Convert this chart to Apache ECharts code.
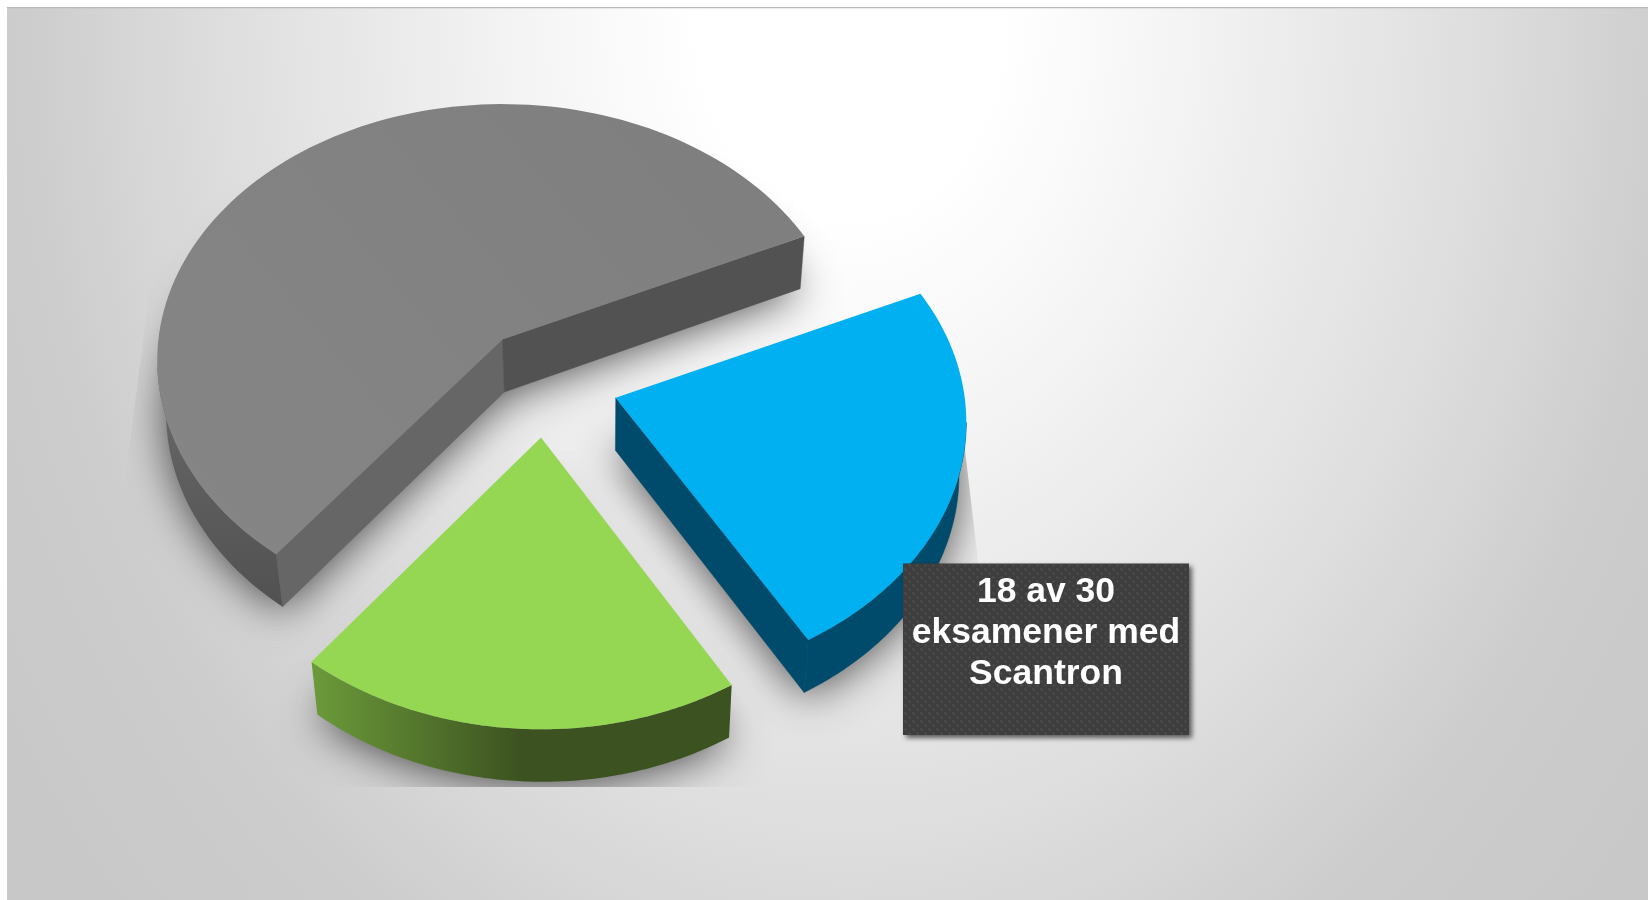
<!DOCTYPE html>
<html><head><meta charset="utf-8">
<style>html,body{margin:0;padding:0;background:#fff}#c{width:1648px;height:900px}</style>
<script src="https://cdn.jsdelivr.net/npm/echarts@6/dist/echarts.min.js"></script>
</head><body><div id="c"></div>
<script>
// data (share of 30 exams)
const categories = ['Blå', 'Grønn', 'Grå'];
const sliceValues = [7.03, 5.70, 17.27];
const labelLines = ['18 av 30', 'eksamener med', 'Scantron'];

// styling tables
const startAngle = 65.2;
const VX = 600, SHRINK = 0.98, DEPTH = 52.5;
const looks = [
 {cx:615.7, cy:397.7, rx:349, p:0.095, ry:258, top:'#00B0F0', side:['#004B6B','#004B6B'], wallStart:null, wallEnd:'#004B6B',
  clip:[[0,0],[900,0],[920,280],[960,400],[965,450],[985,620],[985,900],[0,900]]},
 {cx:541, cy:437.5, rx:341, p:0.109, ry:260, top:'#95D653', side:['#6C9B3A','#3C5220'], wallStart:null, wallEnd:null,
  clip:[[0,0],[1648,0],[1648,787],[0,787]]},
 {cx:502.4, cy:339.5, rx:344, p:0.082, ry:254.7, top:'#808080', side:['#6C6C6C','#525252'], wallStart:'#666666', wallEnd:'#525252',
  clip:[[186,0],[1648,0],[1648,900],[72,900]]}
];

function pattern(){
  const c = document.createElement('canvas'); c.width = 8; c.height = 8;
  const g = c.getContext('2d');
  g.fillStyle = '#3e3e3e'; g.fillRect(0,0,8,8);
  g.fillStyle = '#4c4c4c';
  [[1.5,1.5],[5.5,5.5]].forEach(p=>{g.beginPath();g.arc(p[0],p[1],1.3,0,7);g.fill();});
  return c;
}

function renderSlice(params, api){
  const i = params.dataIndex, L = looks[i];
  const total = sliceValues.reduce((a,b)=>a+b,0);
  let a0 = startAngle;
  for(let k=0;k<i;k++) a0 += sliceValues[k]/total*360;
  const a1 = a0 + api.value(0)/total*360;
  const pt = deg => {
    const t = deg*Math.PI/180, u = Math.sin(t), v = -Math.cos(t), w = 1-L.p*v;
    return [L.cx+L.rx*u/w, L.cy+L.ry*v/w];
  };
  const low = p => [VX+(p[0]-VX)*SHRINK, p[1]+DEPTH];
  const arc = [], front = [];
  const n = 120;
  for(let k=0;k<=n;k++){
    const a = a0+(a1-a0)*k/n, p = pt(a), m = a%360;
    arc.push(p);
    if(m>=95 && m<=265) front.push(p);
  }
  const c = [L.cx,L.cy];
  const topPts = [c].concat(arc);
  const botPts = topPts.map(low);
  const wall = (q,fill) => ({type:'polygon',z2:1,shape:{points:[c,q,low(q),low(c)]},style:{fill:fill,stroke:fill,lineWidth:0.4}});
  const xs = arc.map(p=>p[0]);
  const minX = Math.min.apply(null,xs), maxX = Math.max.apply(null,xs);
  const sideFill = {type:'linear',x:minX,y:0,x2:minX+(maxX-minX)*0.5,y2:0,global:true,
    colorStops:[{offset:0,color:L.side[0]},{offset:1,color:L.side[1]}]};
  if(i===2){ sideFill.x=0; sideFill.y=L.cy; sideFill.x2=0; sideFill.y2=L.cy+260; }
  const topFill = i===2 ? {type:'linear',x:800,y:100,x2:250,y2:560,global:true,
    colorStops:[{offset:0,color:'#7e7e7e'},{offset:1,color:'#858585'}]} : L.top;
  const sideStyle = i===0 ? {fill:sideFill,stroke:L.side[1],lineWidth:0.5,lineJoin:'round'} : {fill:sideFill};
  const kids = [
    {type:'polygon',z2:-5,shape:{points:botPts},
     style:{fill:'#888',shadowBlur:44,shadowColor:'rgba(0,0,0,0.68)',shadowOffsetX:0,shadowOffsetY:3},
     clipPath:{type:'polygon',shape:{points:L.clip}}},
    {type:'polygon',z2:2,shape:{points:front.concat(front.map(low).reverse())},style:sideStyle}
  ];
  if(L.wallStart) kids.push(wall(arc[0],L.wallStart));
  if(L.wallEnd) kids.push(wall(arc[n],L.wallEnd));
  kids.push({type:'polygon',z2:3,shape:{points:topPts},style:{fill:topFill}});
  return {type:'group',children:kids};
}

const chart = echarts.init(document.getElementById('c'),null,{renderer:'canvas'});
chart.setOption({
  animation:false,
  backgroundColor:'#fff',
  graphic:[
    {type:'rect',z:-10,scaleY:1.3,originX:0,originY:0,shape:{x:7,y:8/1.3,width:1641,height:892/1.3},
     style:{fill:{type:'radial',x:850,y:20/1.3,r:1000,global:true,colorStops:[
       {offset:0,color:'#ffffff'},{offset:0.15,color:'#ffffff'},{offset:0.3,color:'#f6f6f6'},
       {offset:0.45,color:'#ebebeb'},{offset:0.6,color:'#e0e0e0'},{offset:0.72,color:'#d6d6d6'},{offset:0.82,color:'#cdcdcd'},{offset:1,color:'#c8c8c8'}]}}},
    {type:'rect',z:-9,shape:{x:7,y:7,width:1641,height:1.2},style:{fill:'#b8b8b8'}},
    {type:'rect',z:10,shape:{x:903,y:563.5,width:286,height:171.5},
     style:{fill:{image:pattern(),repeat:'repeat'},shadowBlur:5,shadowOffsetX:3,shadowOffsetY:3,shadowColor:'rgba(0,0,0,0.6)'}},
    {type:'text',z:11,x:1046,y:572,
     style:{text:labelLines.join('\n'),fill:'#fff',font:'bold 35.5px "Liberation Sans"',align:'center',verticalAlign:'top',lineHeight:41}}
  ],
  series:[{type:'custom',coordinateSystem:'none',name:'Eksamener',z:2,silent:true,clip:false,
    data:sliceValues.map((v,i)=>({name:categories[i],value:v})),
    renderItem:renderSlice}]
});
</script></body></html>
